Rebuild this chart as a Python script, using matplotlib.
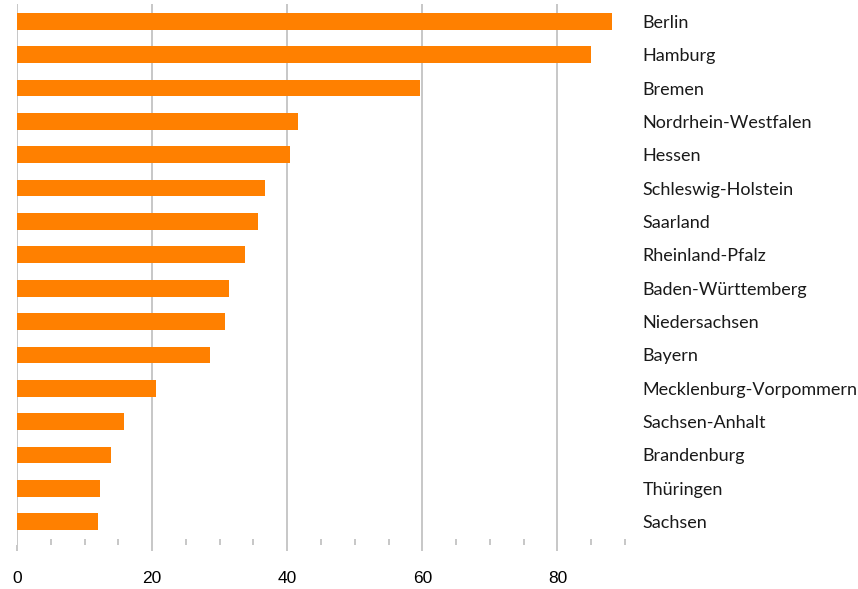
import matplotlib.pyplot as plt
import numpy as np

laender = ['Berlin', 'Hamburg', 'Bremen', 'Nordrhein-Westfalen', 'Hessen',
           'Schleswig-Holstein', 'Saarland', 'Rheinland-Pfalz',
           'Baden-Württemberg', 'Niedersachsen', 'Bayern',
           'Mecklenburg-Vorpommern', 'Sachsen-Anhalt', 'Brandenburg',
           'Thüringen', 'Sachsen']
werte = [88.1, 84.9, 59.7, 41.6, 40.4, 36.7, 35.7, 33.8, 31.4, 30.8, 28.6,
         20.6, 15.9, 13.9, 12.3, 12.0]
x_ticks = [0, 20, 40, 60, 80]

orange = '#ff8000'
grau = '#bdbdbd'

fig = plt.figure(figsize=(8.58, 5.89), dpi=100)
ax = fig.add_axes([17 / 858, 1 - 545 / 589, 608 / 858, 541 / 589])

y = np.arange(len(laender))
ax.barh(y, werte, height=0.5, color=orange, zorder=2)

ax.set_xlim(0, 90)
ax.set_ylim(len(laender) - 1 + 0.7, -0.52)

# Beschriftung rechts neben der Grafik
ax.yaxis.tick_right()
ax.set_yticks(y)
ax.set_yticklabels(laender, family='Lato', fontsize=13, color='#1a1a1a')
ax.tick_params(axis='y', length=0, pad=12.5)

ax.set_xticks(x_ticks)
ax.set_xticks(np.arange(0, 91, 5), minor=True)
ax.set_xticklabels([str(v) for v in x_ticks], family='Liberation Sans', fontsize=12.5)
ax.tick_params(axis='x', which='major', direction='out', length=4.5, width=1.2,
               color=grau, pad=14)
ax.tick_params(axis='x', which='minor', direction='in', length=4, width=1.2,
               color=grau)
ax.grid(axis='x', which='major', color=grau, linewidth=1.2, zorder=1)

for s in ax.spines.values():
    s.set_visible(False)

fig.savefig('out.png', dpi=100)
